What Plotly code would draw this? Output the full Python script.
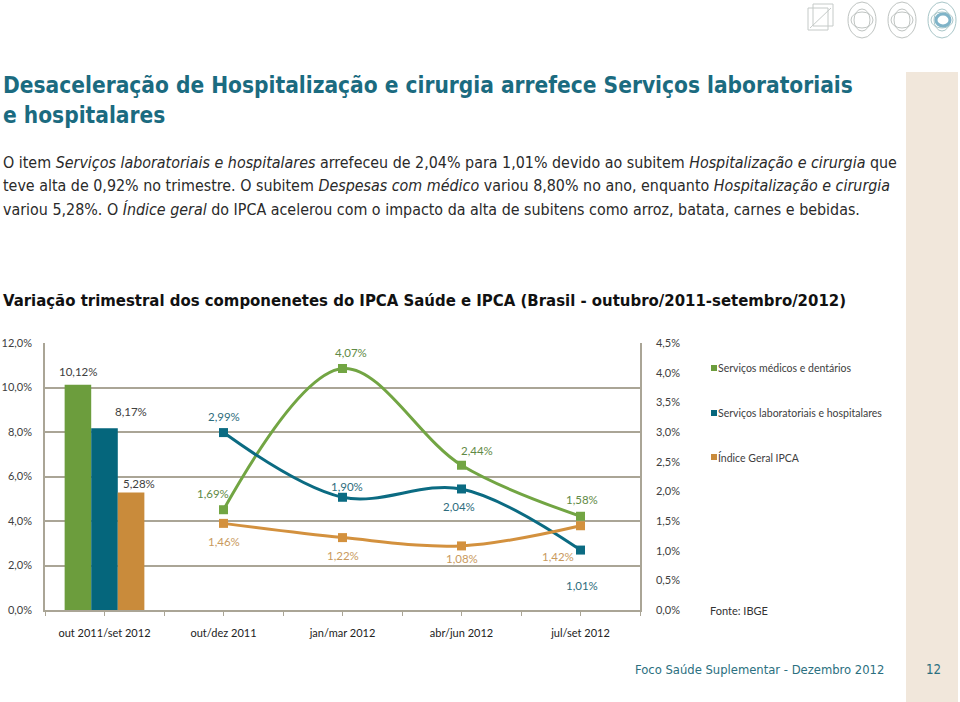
import plotly.graph_objects as go

categories = ["out 2011/set 2012", "out/dez 2011", "jan/mar 2012", "abr/jun 2012", "jul/set 2012"]
series_names = ["Serviços médicos e dentários", "Serviços laboratoriais e hospitalares", "Índice Geral IPCA"]
annual_values = [10.12, 8.17, 5.28]          # out 2011/set 2012 (left axis)
quarter_medicos = [1.69, 4.07, 2.44, 1.58]   # right axis
quarter_lab = [2.99, 1.90, 2.04, 1.01]
quarter_ipca = [1.46, 1.22, 1.08, 1.42]
left_ticks = [0, 2, 4, 6, 8, 10, 12]
right_ticks = [0, 0.5, 1, 1.5, 2, 2.5, 3, 3.5, 4, 4.5]

bar_colors = ["#6c9d3d", "#05667c", "#c98b3b"]
line_colors = ["#72a543", "#0b6b82", "#d3913e"]
label_colors = ["#5f8a45", "#2d6d7d", "#c99a5e"]

W, H = 960, 702
L, R, T, B = 45, 640, 343, 610

def px(xp):
    return (xp - L) / (R - L)

def py(yp):
    return (B - yp) / (B - T)

cond = "Liberation Sans Narrow, DejaVu Sans Condensed, Roboto, sans-serif"
chartfont = "Lato, Open Sans, sans-serif"
teal = "#1b6b80"

def pct(v, nd):
    return (("%." + str(nd) + "f") % v).replace(".", ",") + "%"

fig = go.Figure()

qx = list(range(1, len(categories)))
for i, name in enumerate(series_names):
    fig.add_trace(go.Bar(
        x=[0], y=[annual_values[i]], name=name, marker_color=bar_colors[i],
        marker_line_width=0, yaxis="y", showlegend=False, offsetgroup=str(i),
    ))

quarters = [quarter_medicos, quarter_lab, quarter_ipca]
for i, vals in enumerate(quarters):
    fig.add_trace(go.Scatter(
        x=qx, y=vals, mode="lines+markers", name=series_names[i], yaxis="y2",
        line=dict(color=line_colors[i], width=3, shape="spline", smoothing=1.0),
        marker=dict(symbol="square", size=9, color=line_colors[i]),
        showlegend=False,
    ))

ann = []
# bar labels (offsets in px from group centre)
bar_off = [(-26, 13), (26, 17), (34, 9)]
for i, v in enumerate(annual_values):
    ann.append(dict(x=0, y=v, xref="x", yref="y", text=pct(v, 2), showarrow=False,
                    xshift=bar_off[i][0], yshift=bar_off[i][1],
                    font=dict(family=chartfont, size=11.5, color="#404040")))

line_off = [
    [(-11, 16), (8, 16), (15, 15), (1, 17)],
    [(0, 16), (4, 11), (-3, -18), (1, -35)],
    [(0, -18), (0, -18), (0, -13), (-23, -31)],
]
for i, vals in enumerate(quarters):
    for j, v in enumerate(vals):
        ann.append(dict(x=qx[j], y=v, xref="x", yref="y2", text=pct(v, 2), showarrow=False,
                        xshift=line_off[i][j][0], yshift=line_off[i][j][1],
                        font=dict(family=chartfont, size=11.5, color=label_colors[i])))

# page texts
def txt(x, y, text, size, color, family, anchor="left"):
    ann.append(dict(x=px(x), y=py(y), xref="paper", yref="paper", text=text,
                    showarrow=False, xanchor=anchor, yanchor="middle", borderpad=0,
                    xshift=-3 if anchor == "left" else 0,
                    font=dict(family=family, size=size, color=color)))

txt(5, 85, "<b>Desaceleração de Hospitalização e cirurgia arrefece Serviços laboratoriais</b>", 22.5, teal, cond)
txt(5, 115, "<b>e hospitalares</b>", 22.5, teal, cond)
txt(5, 163, "O item <i>Serviços laboratoriais e hospitalares</i> arrefeceu de 2,04% para 1,01% devido ao subitem <i>Hospitalização e cirurgia</i> que", 15.9, "#2a2a2a", cond)
txt(5, 186, "teve alta de 0,92% no trimestre. O subitem <i>Despesas com médico</i> variou 8,80% no ano, enquanto <i>Hospitalização e cirurgia</i>", 15.9, "#2a2a2a", cond)
txt(5, 209, "variou 5,28%. O <i>Índice geral</i> do IPCA acelerou com o impacto da alta de subitens como arroz, batata, carnes e bebidas.", 15.9, "#2a2a2a", cond)
txt(5, 300, "<b>Variação trimestral dos componenetes do IPCA Saúde e IPCA (Brasil - outubro/2011-setembro/2012)</b>", 16.6, "#111111", cond)

# legend
leg_y = [368, 413, 457]
shapes = []
for i, name in enumerate(series_names):
    txt(720, leg_y[i], name, 10.5, "#404040", chartfont)
    shapes.append(dict(type="rect", xref="paper", yref="paper",
                       x0=px(711), x1=px(717), y0=py(leg_y[i] - 3), y1=py(leg_y[i] + 3),
                       fillcolor=bar_colors[i], line_width=0))
txt(712, 610, "Fonte: IBGE", 11, "#333333", chartfont)
txt(637, 669, "Foco Saúde Suplementar - Dezembro 2012", 12.9, "#2b6f80", cond)
txt(933, 669, "12", 13.2, "#2b6f80", cond, anchor="center")

# beige strip
shapes.insert(0, dict(type="rect", xref="paper", yref="paper", layer="below",
                      x0=px(906), x1=px(958), y0=py(72), y1=py(702),
                      fillcolor="#f1e7db", line_width=0))
# decorative icons
ic = "#c5cac8"
shapes.append(dict(type="rect", xref="paper", yref="paper", x0=px(808), x1=px(828), y0=py(8), y1=py(30), line=dict(color=ic, width=1)))
shapes.append(dict(type="rect", xref="paper", yref="paper", x0=px(813), x1=px(833), y0=py(4), y1=py(26), line=dict(color=ic, width=1)))
shapes.append(dict(type="line", xref="paper", yref="paper", x0=px(810), x1=px(831), y0=py(28), y1=py(8), line=dict(color=ic, width=1)))
for cx, col in [(862, "#bfc4c2"), (902, "#bfc4c2"), (942, "#a9c6c8")]:
    for rx, ry in [(14, 18), (11, 8), (8, 11)]:
        shapes.append(dict(type="circle", xref="paper", yref="paper",
                           x0=px(cx - rx), x1=px(cx + rx), y0=py(20 + ry), y1=py(20 - ry),
                           line=dict(color=col, width=1)))
shapes.append(dict(type="circle", xref="paper", yref="paper", x0=px(936), x1=px(950), y0=py(26), y1=py(14),
                   line=dict(color="#7fb3c8", width=3)))

axis_line = "#aaa596"
fig.update_layout(
    width=W, height=H, margin=dict(l=L, r=W - R, t=T, b=H - B, autoexpand=False),
    paper_bgcolor="white", plot_bgcolor="white",
    barmode="group", bargap=0.33, bargroupgap=0,
    showlegend=False,
    xaxis=dict(range=[-0.5, 4.5], tickvals=list(range(len(categories))), ticktext=categories,
               automargin=False,
               showgrid=False, zeroline=False, showline=True, linecolor=axis_line, linewidth=1.5,
               ticks="outside", ticklen=4, tickcolor=axis_line,
               minor=dict(tick0=0.5, dtick=1, ticks="outside", ticklen=4, tickcolor=axis_line),
               tickfont=dict(family=chartfont, size=11, color="#222222"), ticklabelstandoff=8),
    yaxis=dict(range=[0, 12], tickvals=left_ticks, ticktext=[pct(v, 1) for v in left_ticks],
               automargin=False,
               showgrid=True, gridcolor=axis_line, gridwidth=1.5, zeroline=False,
               showline=True, linecolor=axis_line, linewidth=1.5,
               tickfont=dict(family=chartfont, size=11, color="#404040"), ticklabelstandoff=9),
    yaxis2=dict(range=[0, 4.5], tickvals=right_ticks, ticktext=[pct(v, 1) for v in right_ticks],
                automargin=False,
                overlaying="y", side="right", showgrid=False, zeroline=False,
                showline=True, linecolor=axis_line, linewidth=1.5,
                tickfont=dict(family=chartfont, size=11, color="#404040"), ticklabelstandoff=12),
    annotations=ann, shapes=shapes,
)

fig.write_html("out.html")
